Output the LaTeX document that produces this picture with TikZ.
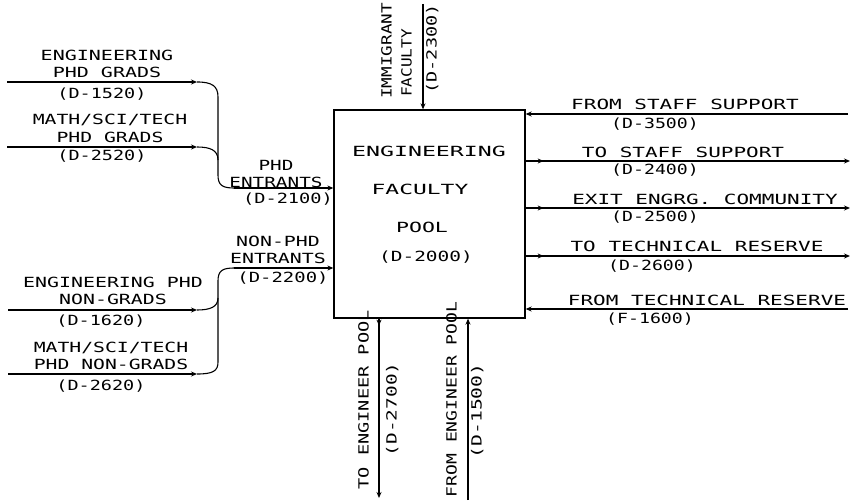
\documentclass[tikz,border=0pt]{standalone}
\usepackage{fontspec}
\usepackage{graphicx}
\newfontfamily\plt{DejaVu Sans Mono}
\usetikzlibrary{arrows.meta}
\newcommand\lab[2]{\scalebox{#1}[1]{\begin{tabular}{@{}c@{}}#2\end{tabular}}}
\begin{document}
\begin{tikzpicture}[x=1pt,y=-1pt,
  txt/.style={inner sep=0pt, font=\plt\fontsize{14}{17.5}\selectfont, yshift=-1.6pt},
  rtxt/.style={inner sep=0pt, font=\plt\fontsize{14}{17.5}\selectfont, rotate=90, xshift=1.6pt},
  flow/.style={line width=1.1pt},
  arr/.style={flow,-{Stealth[length=6pt,width=5pt]}},
]
\fill[white] (0,0) rectangle (852,503);
\useasboundingbox (0,0) rectangle (852,503);

% main box
\node[draw, line width=1.3pt, minimum width=191pt, minimum height=208pt, inner sep=0pt] (pool) at (429.5,214) {};
\node[txt] (bt1) at (429,151) {\lab{1.66}{ENGINEERING}};
\node[txt] (bt2) at (420,189) {\lab{1.64}{FACULTY}};
\node[txt] (bt3) at (422,227) {\lab{1.54}{POOL}};
\node[txt] (bt4) at (426,256) {\lab{1.39}{(D-2000)}};

% left labels
\node[txt] (la1) at (107,64) {\lab{1.43}{ENGINEERING\\PHD GRADS}};
\node[txt] (la1c) at (102,93) {\lab{1.32}{(D-1520)}};
\node[txt] (la2) at (110,128.5) {\lab{1.41}{MATH/SCI/TECH\\PHD GRADS}};
\node[txt] (la2c) at (102,155) {\lab{1.32}{(D-2520)}};
\node[txt] (phd) at (276,174) {\lab{1.38}{PHD\\ENTRANTS}};
\node[txt] (phdc) at (288,198) {\lab{1.33}{(D-2100)}};
\node[txt] (nphd) at (278,250) {\lab{1.42}{NON-PHD\\ENTRANTS}};
\node[txt] (nphdc) at (283,277) {\lab{1.35}{(D-2200)}};
\node[txt] (la3) at (113,291) {\lab{1.42}{ENGINEERING PHD\\NON-GRADS}};
\node[txt] (la3c) at (101,320) {\lab{1.32}{(D-1620)}};
\node[txt] (la4) at (111,356) {\lab{1.41}{MATH/SCI/TECH\\PHD NON-GRADS}};
\node[txt] (la4c) at (101,385) {\lab{1.32}{(D-2620)}};

% right labels
\node[txt] (r1t) at (685,104) {\lab{1.5}{FROM STAFF SUPPORT}};
\node[txt] (r1c) at (655,123) {\lab{1.3}{(D-3500)}};
\node[txt] (r2t) at (683,152) {\lab{1.5}{TO STAFF SUPPORT}};
\node[txt] (r2c) at (655,169) {\lab{1.3}{(D-2400)}};
\node[txt] (r3t) at (705,199) {\lab{1.5}{EXIT ENGRG. COMMUNITY}};
\node[txt] (r3c) at (655,216) {\lab{1.3}{(D-2500)}};
\node[txt] (r4t) at (697,246) {\lab{1.5}{TO TECHNICAL RESERVE}};
\node[txt] (r4c) at (652,265) {\lab{1.3}{(D-2600)}};
\node[txt] (r5t) at (707,300) {\lab{1.5}{FROM TECHNICAL RESERVE}};
\node[txt] (r5c) at (650,318) {\lab{1.3}{(F-1600)}};

% top labels
\node[rtxt] (t1) at (388,52.5) {\lab{1.26}{IMMIGRANT}};
\node[rtxt] (t2) at (408,64.5) {\lab{1.15}{FACULTY}};
\node[rtxt] (t3) at (433,50.5) {\lab{1.32}{(D-2300)}};

% bottom labels
\node[rtxt] (b1t) at (365,401.5) {\lab{1.33}{TO ENGINEER POOL}};
\node[rtxt] (b1c) at (393,411) {\lab{1.39}{(D-2700)}};
\node[rtxt] (b2t) at (453,401) {\lab{1.29}{FROM ENGINEER POOL}};
\node[rtxt] (b2c) at (478,412.5) {\lab{1.41}{(D-1500)}};

% coordinates
\coordinate (l1) at (7,82);   \coordinate (j1) at (197,82);
\coordinate (l2) at (7,147);  \coordinate (j2) at (197,147);
\coordinate (l3) at (8,310);  \coordinate (j3) at (197,310);
\coordinate (l4) at (8,374);  \coordinate (j4) at (197,374);
\coordinate (e1) at (234,188); \coordinate (e2) at (234,268);
\coordinate (tt) at (423,4);
\coordinate (rr1) at (848,114); \coordinate (rr2) at (850,161);
\coordinate (rr3) at (850,208); \coordinate (rr4) at (850,256);
\coordinate (rr5) at (848,309);
\coordinate (bb1) at (379,498); \coordinate (bb2) at (468,500);

% left connectors
\draw[arr] (l1) -- (j1);
\draw[arr] (l2) -- (j2);
\draw[arr] (l3) -- (j3);
\draw[arr] (l4) -- (j4);
\draw[flow] (j1) .. controls (212,82) and (218,86) .. (218,97) -- (218,175) .. controls (218,185) and (222,188) .. (e1);
\draw[flow] (j2) .. controls (210,147) and (218,150) .. (218,160);
\draw[arr] (e1) -- (e1 -| pool.west);
\draw[flow] (e2) .. controls (222,268) and (218,271) .. (218,281) -- (218,362) .. controls (218,371) and (213,374) .. (j4);
\draw[flow] (j3) .. controls (210,310) and (218,307) .. (218,298);
\draw[arr] (e2) -- (e2 -| pool.west);

% top
\draw[arr] (tt) -- (tt |- pool.north);

% right
\draw[arr] (rr1) -- (rr1 -| pool.east);
\draw[arr] (rr2 -| pool.east) -- ++(18,0);
\draw[arr] (rr2 -| pool.east) -- (rr2);
\draw[arr] (rr3 -| pool.east) -- ++(18,0);
\draw[arr] (rr3 -| pool.east) -- (rr3);
\draw[arr] (rr4 -| pool.east) -- ++(18,0);
\draw[arr] (rr4 -| pool.east) -- (rr4);
\draw[arr] (rr5) -- (rr5 -| pool.east);

% bottom
\draw[arr] (bb1 |- pool.south) -- ++(0,7);
\draw[arr] (bb1 |- pool.south) -- (bb1);
\draw[arr] (bb2) -- (bb2 |- pool.south);
\end{tikzpicture}
\end{document}
